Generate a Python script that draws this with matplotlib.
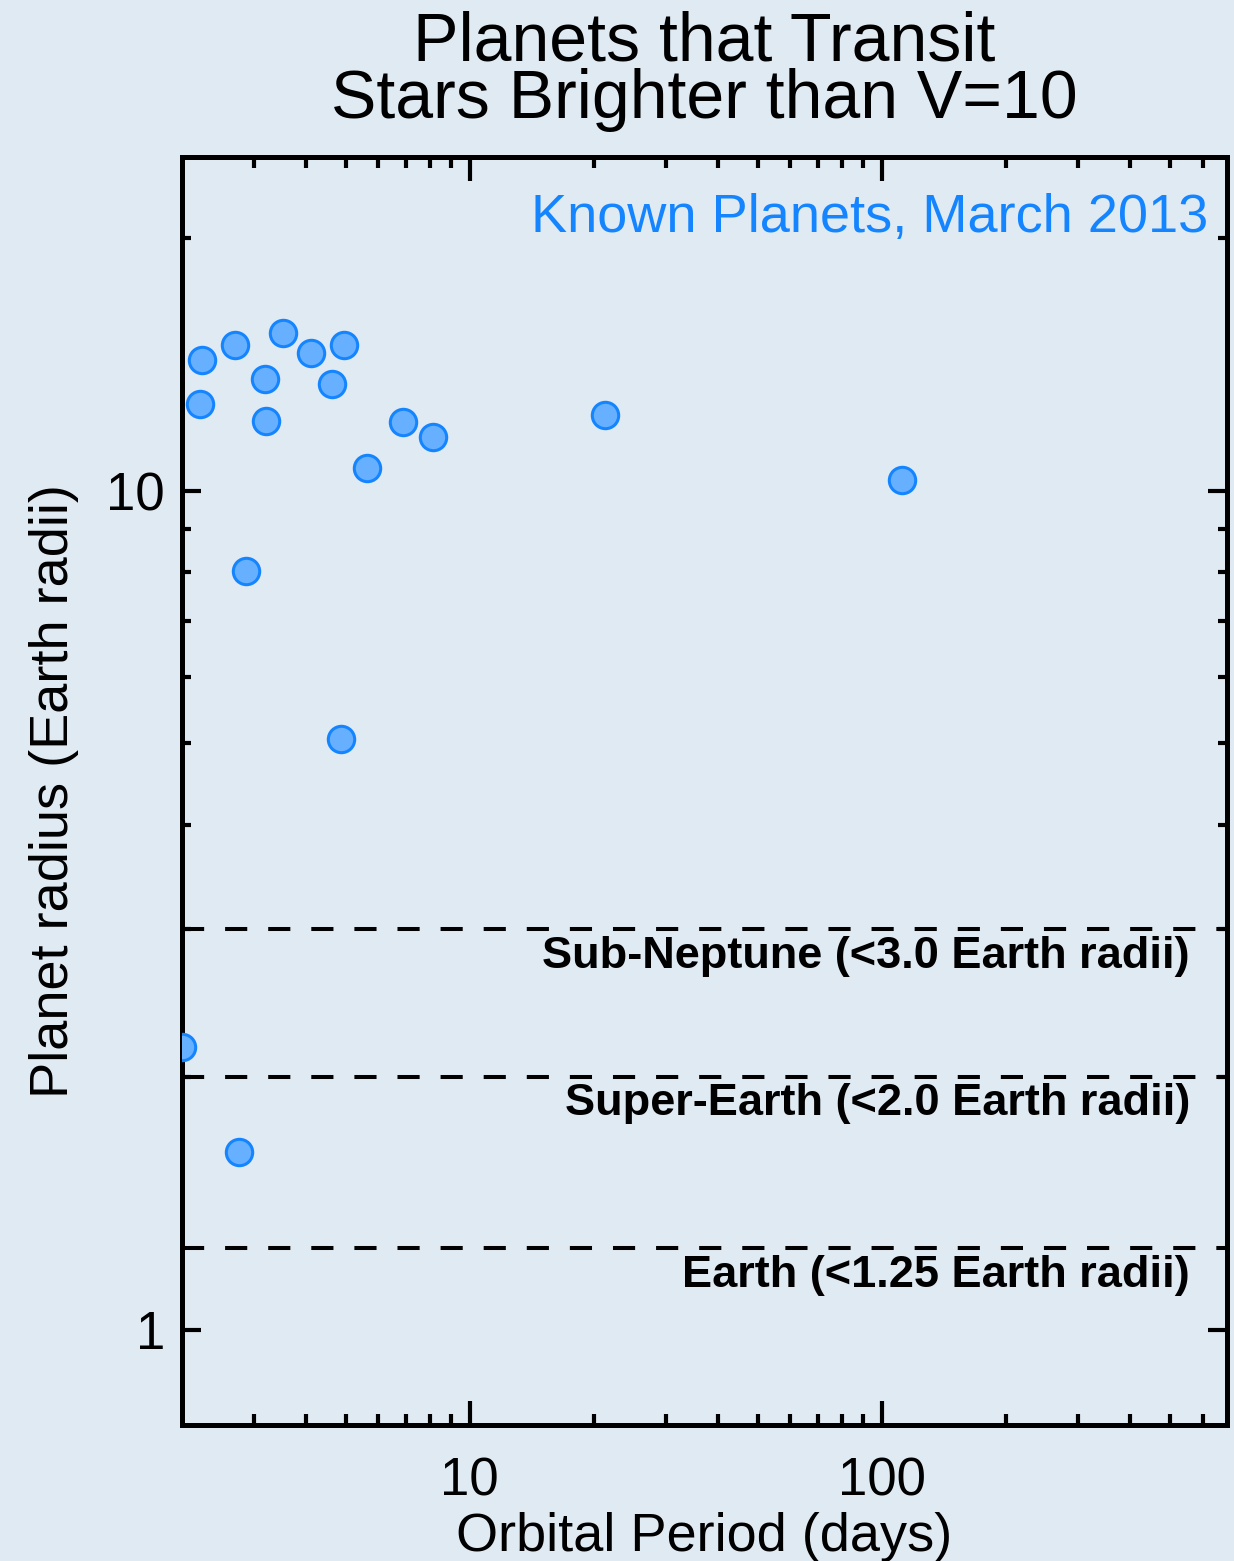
import matplotlib
matplotlib.use("Agg")
import matplotlib.pyplot as plt
from matplotlib.ticker import FixedLocator, NullFormatter, FuncFormatter

plt.rcParams['font.family'] = ['Liberation Sans', 'DejaVu Sans']

# ---- data ----
period_days = [2.24, 2.70, 3.52, 4.11, 4.95, 3.19, 4.63, 2.21, 3.21, 6.89,
               8.16, 5.63, 21.3, 111.8, 2.86, 4.86, 2.00, 2.76]
radius_earth = [14.3, 14.9, 15.4, 14.6, 14.9, 13.6, 13.4, 12.7, 12.1, 12.06,
                11.6, 10.65, 12.3, 10.3, 8.03, 5.06, 2.17, 1.63]
class_limits = [3.0, 2.0, 1.25]
class_labels = ["Sub-Neptune (<3.0 Earth radii)",
                "Super-Earth (<2.0 Earth radii)",
                "Earth (<1.25 Earth radii)"]
x_major = [10, 100]
y_major = [1, 10]
x_minor = [3, 4, 5, 6, 7, 8, 9, 20, 30, 40, 50, 60, 70, 80, 90,
           200, 300, 400, 500, 600]
y_minor = [2, 3, 4, 5, 6, 7, 8, 9, 20]

BG = '#e0eaf3'
W, H = 1234, 1561
fig = plt.figure(figsize=(W / 100, H / 100), dpi=100, facecolor=BG)
L, R, T, B = 181.7, 1227.0, 156.7, 1425.0
ax = fig.add_axes([L / W, 1 - B / H, (R - L) / W, (B - T) / H])
ax.set_facecolor(BG)
ax.set_xscale('log')
ax.set_yscale('log')
ax.set_xlim(2.0, 688)
ax.set_ylim(0.77, 25)

ax.scatter(period_days, radius_earth, s=19 ** 2, facecolor='#66b0ff',
           edgecolor='#1585ff', linewidth=2.2, zorder=3)

for lim, lab in zip(class_limits, class_labels):
    ax.axhline(lim, color='black', lw=2.9, ls=(0, (5.5, 5.2)), zorder=2)
    ax.annotate(lab, xy=(0.9646, lim), xycoords=('axes fraction', 'data'),
                xytext=(0, -27.5), textcoords='offset points',
                ha='right', va='baseline', fontsize=32.5, fontweight='bold',
                color='black')

ax.text(0.9818, 0.9409, "Known Planets, March 2013", transform=ax.transAxes,
        ha='right', va='baseline', fontsize=39, color='#1585ff')

# ticks
ax.xaxis.set_major_locator(FixedLocator(x_major))
ax.xaxis.set_minor_locator(FixedLocator(x_minor))
ax.yaxis.set_major_locator(FixedLocator(y_major))
ax.yaxis.set_minor_locator(FixedLocator(y_minor))
fmt = FuncFormatter(lambda v, p: f"{v:g}")
ax.xaxis.set_major_formatter(fmt)
ax.yaxis.set_major_formatter(fmt)
ax.xaxis.set_minor_formatter(NullFormatter())
ax.yaxis.set_minor_formatter(NullFormatter())
ax.tick_params(axis='x', which='both', direction='in', top=True, bottom=True,
               width=3, labelsize=38, pad=23)
ax.tick_params(axis='x', which='major', length=17)
ax.tick_params(axis='x', which='minor', length=8)
ax.tick_params(axis='y', which='both', direction='in', left=True, right=True,
               width=3, labelsize=38, pad=12)
ax.tick_params(axis='y', which='major', length=14)
ax.tick_params(axis='y', which='minor', length=6.5)
for s in ax.spines.values():
    s.set_linewidth(3.6)

ax.set_xlabel("Orbital Period (days)", fontsize=39)
ax.xaxis.set_label_coords(0.5, -0.0686)
ax.set_ylabel("Planet radius (Earth radii)", fontsize=39)
ax.yaxis.set_label_coords(-0.098, 0.5)

cx = (L + R) / 2 / W
fig.text(cx, 1 - 118 / H, "Planets that Transit\nStars Brighter than V=10",
         ha='center', va='baseline', fontsize=49, linespacing=0.87)

fig.savefig("out.png", dpi=100, facecolor=BG)
